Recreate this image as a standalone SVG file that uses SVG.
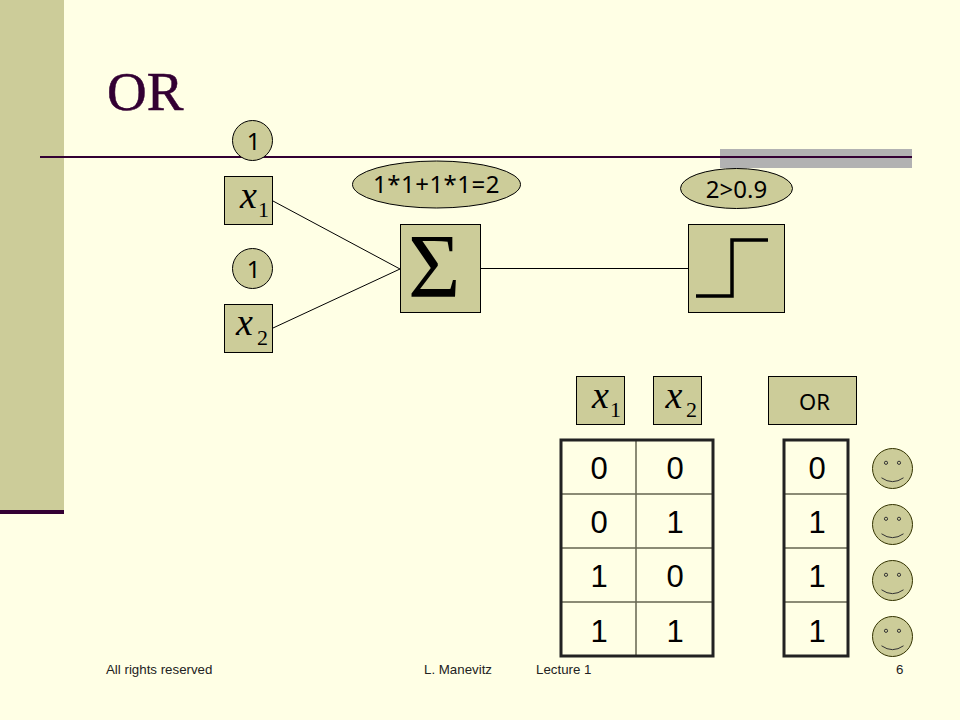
<svg xmlns="http://www.w3.org/2000/svg" width="960" height="720" viewBox="0 0 960 720">
<style>
.s{fill:#cccc99;stroke:#000;stroke-width:1}
.c{fill:none;stroke:#000;stroke-width:1}
.l{font-family:"Noto Sans","DejaVu Sans",sans-serif;font-size:24px;fill:#000;text-anchor:middle}
.m{font-family:"Liberation Serif",serif;font-style:italic;font-size:38px;fill:#000}
.n{font-family:"Liberation Serif",serif;font-size:22px;fill:#000}
.d{font-family:"Liberation Sans",Arial,sans-serif;font-size:31px;fill:#000;text-anchor:middle}
.f{font-family:"Liberation Sans",Arial,sans-serif;font-size:13.3px;fill:#222}
.g{stroke:#666650;stroke-width:1.5}
.o{fill:none;stroke:#222;stroke-width:3}
.e{fill:none;stroke:#333;stroke-width:1}
</style>
<defs>
<g id="smile">
<circle r="20" fill="#cccc99" stroke="#333300" stroke-width="1"/>
<circle cx="-6.5" cy="-5.7" r="1.6" class="e"/>
<circle cx="6.5" cy="-5.7" r="1.6" class="e"/>
<path d="M-11 9.3Q0 17 11 9.3" class="e"/>
</g>
</defs>
<rect width="960" height="720" fill="#ffffe5"/>
<g id="background">
<rect x="0" y="0" width="64" height="512" fill="#cccc99"/>
<rect x="0" y="510" width="64" height="4" fill="#330033"/>
<rect x="720" y="149" width="192" height="19" fill="#b2b2b2"/>
<rect x="40" y="156" width="872" height="2" fill="#330033"/>
<text x="107" y="110" font-family="Liberation Serif,serif" font-size="55px" fill="#330033" stroke="#330033" stroke-width="0.5">OR</text>
</g>
<g id="connectors">
<line x1="273" y1="201" x2="400" y2="269" class="c"/>
<line x1="273" y1="328" x2="400" y2="269" class="c"/>
<line x1="481" y1="268.500" x2="688" y2="268.500" class="c"/>
</g>
<g id="w1"><circle cx="252.500" cy="140.500" r="20" class="s"/><text x="253.500" y="150" class="l">1</text></g>
<g id="w2"><circle cx="252.500" cy="268.500" r="20" class="s"/><text x="253.500" y="278" class="l">1</text></g>
<g id="x1"><rect x="224.500" y="176.500" width="48" height="48" class="s"/><text x="240" y="208" class="m">x</text><text x="258" y="217" class="n">1</text></g>
<g id="x2"><rect x="224.500" y="304.500" width="48" height="48" class="s"/><text x="236" y="335" class="m">x</text><text x="257" y="345" class="n">2</text></g>
<g id="sum"><ellipse cx="436.500" cy="184.500" rx="84" ry="23.500" class="s"/><text x="436.500" y="193" class="l" letter-spacing="0.5">1*1+1*1=2</text></g>
<g id="sigma"><rect x="400.500" y="224.500" width="80" height="88" class="s"/><text x="408" y="297" font-family="Liberation Serif,serif" font-size="90px" fill="#000">Σ</text></g>
<g id="threshold"><ellipse cx="736.500" cy="188.500" rx="56" ry="20" class="s"/><text x="736.500" y="198" class="l">2&gt;0.9</text></g>
<g id="step"><rect x="688.500" y="224.500" width="96" height="88" class="s"/><path d="M696 296H732V240H768" fill="none" stroke="#000" stroke-width="3.500"/></g>
<g id="hx1"><rect x="576.500" y="376.500" width="48" height="48" class="s"/><text x="592" y="408" class="m">x</text><text x="610" y="417" class="n">1</text></g>
<g id="hx2"><rect x="653.500" y="376.500" width="48" height="48" class="s"/><text x="665.500" y="408" class="m">x</text><text x="686" y="417" class="n">2</text></g>
<g id="hor"><rect x="768.500" y="376.500" width="88" height="48" class="s"/><text x="814.500" y="410" class="l" style="font-size:22px">OR</text></g>
<g id="table1">
<path d="M636 440V656M561 494H712M561 548H712M561 602H712" class="g" fill="none"/>
<rect x="561" y="440" width="152" height="216" class="o"/>
<text x="599" y="479" class="d">0</text><text x="675" y="479" class="d">0</text>
<text x="599" y="533" class="d">0</text><text x="675" y="533" class="d">1</text>
<text x="599" y="587" class="d">1</text><text x="675" y="587" class="d">0</text>
<text x="599" y="642" class="d">1</text><text x="675" y="642" class="d">1</text>
</g>
<g id="table2">
<path d="M784 494H848M784 548H848M784 602H848" class="g" fill="none"/>
<rect x="784" y="440" width="64" height="216" class="o"/>
<text x="817" y="479" class="d">0</text>
<text x="817" y="533" class="d">1</text>
<text x="817" y="587" class="d">1</text>
<text x="817" y="642" class="d">1</text>
</g>
<g id="s1"><use href="#smile" x="892.500" y="468.500"/></g>
<g id="s2"><use href="#smile" x="892.500" y="524.500"/></g>
<g id="s3"><use href="#smile" x="892.500" y="580.500"/></g>
<g id="s4"><use href="#smile" x="892.500" y="636.500"/></g>
<g id="footer">
<text x="106" y="674" class="f">All rights reserved</text>
<text x="424" y="674" class="f">L. Manevitz</text>
<text x="536" y="674" class="f">Lecture 1</text>
<text x="896" y="674" class="f">6</text>
</g>
</svg>
